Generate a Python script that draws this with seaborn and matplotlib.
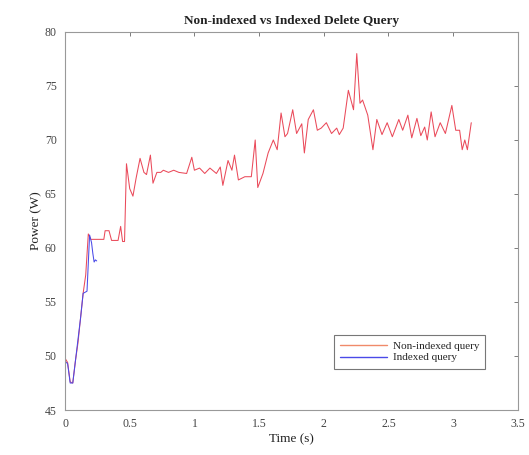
import matplotlib
matplotlib.use("Agg")
import matplotlib.pyplot as plt
import seaborn as sns
import pandas as pd

# Non-indexed query (red)
t_nonidx = [0.00, 0.02, 0.04, 0.06, 0.08, 0.10, 0.12, 0.14, 0.16, 0.18, 0.20, 0.25, 0.30,
            0.31, 0.34, 0.36, 0.41, 0.43, 0.445, 0.46, 0.475, 0.50, 0.525, 0.55, 0.58, 0.61,
            0.63, 0.66, 0.68, 0.71, 0.74, 0.76, 0.80, 0.84, 0.88, 0.94, 0.98, 1.00, 1.04,
            1.08, 1.12, 1.17, 1.20, 1.22, 1.26, 1.29, 1.31, 1.34, 1.39, 1.44, 1.47, 1.49,
            1.53, 1.57, 1.61, 1.64, 1.67, 1.70, 1.72, 1.76, 1.79, 1.83, 1.85, 1.88, 1.92,
            1.95, 1.98, 2.02, 2.06, 2.10, 2.12, 2.15, 2.19, 2.23, 2.255, 2.28, 2.30, 2.34,
            2.38, 2.41, 2.45, 2.49, 2.53, 2.58, 2.61, 2.65, 2.68, 2.72, 2.75, 2.78, 2.80,
            2.83, 2.86, 2.90, 2.94, 2.99, 3.02, 3.05, 3.07, 3.09, 3.11, 3.14]
p_nonidx = [49.8, 49.4, 47.6, 47.5, 49.5, 51.2, 53.5, 55.8, 57.5, 61.3, 60.8, 60.8, 60.8,
            61.6, 61.6, 60.7, 60.7, 62.0, 60.6, 60.6, 67.8, 65.5, 64.8, 66.5, 68.3, 67.0,
            66.8, 68.6, 66.0, 67.0, 67.0, 67.2, 67.0, 67.2, 67.0, 66.9, 68.4, 67.2, 67.4,
            66.9, 67.4, 66.9, 67.5, 65.8, 68.1, 67.2, 68.6, 66.3, 66.6, 66.6, 70.0, 65.6,
            66.9, 68.8, 70.0, 69.1, 72.5, 70.3, 70.6, 72.8, 70.6, 71.5, 68.8, 71.9, 72.8,
            70.9, 71.1, 71.6, 70.6, 71.1, 70.5, 71.1, 74.6, 72.8, 78.0, 73.4, 73.7, 72.3,
            69.1, 71.9, 70.5, 71.6, 70.3, 71.9, 70.9, 72.3, 70.2, 72.0, 70.4, 71.2, 70.0,
            72.6, 70.3, 71.6, 70.6, 73.2, 70.9, 70.9, 69.1, 70.0, 69.1, 71.6]

# Indexed query (blue)
t_idx = [0.00, 0.02, 0.04, 0.06, 0.09, 0.12, 0.14, 0.155, 0.17, 0.19, 0.205, 0.215, 0.225, 0.235, 0.245]
p_idx = [49.5, 49.3, 47.5, 47.5, 50.5, 53.5, 55.8, 55.9, 56.0, 61.2, 60.5, 59.5, 58.7, 58.9, 58.8]

series_names = ["Non-indexed query", "Indexed query"]
colors = ["#ea4a5a", "#4a4ae8"]

df = pd.concat([
    pd.DataFrame({"t": t_nonidx, "p": p_nonidx, "s": series_names[0]}),
    pd.DataFrame({"t": t_idx, "p": p_idx, "s": series_names[1]}),
], ignore_index=True)

sns.set_theme(style="white")
plt.rcParams['font.family'] = ['Liberation Serif', 'DejaVu Serif']

fig = plt.figure(figsize=(5.29, 4.55), dpi=100)
ax = fig.add_axes([0.1229, 0.0989, 0.856, 0.8308])

sns.lineplot(data=df, x="t", y="p", hue="s", palette=dict(zip(series_names, colors)),
             sort=False, estimator=None, linewidth=0.75, ax=ax)

ax.set_xlim(0, 3.5)
ax.set_ylim(45, 80)
ax.set_xticks([0, 0.5, 1, 1.5, 2, 2.5, 3, 3.5])
ax.set_xticklabels(["0", "0.5", "1", "1.5", "2", "2.5", "3", "3.5"])
ax.set_yticks([45, 50, 55, 60, 65, 70, 75, 80])
ax.tick_params(direction="in", top=True, right=True, length=3, width=0.6,
               colors="#666666", labelsize=8.5, labelcolor="#444444", pad=6)
for sp in ax.spines.values():
    sp.set_color("#999999")
    sp.set_linewidth(0.8)

ax.set_xlabel("Time (s)", fontsize=9.5, color="#222222", labelpad=2)
ax.set_ylabel("Power (W)", fontsize=9.5, color="#222222", labelpad=2)
ax.set_title("Non-indexed vs Indexed Delete Query", fontsize=9.5, fontweight="bold",
             color="#222222", pad=6)

leg = ax.legend(loc="lower right", bbox_to_anchor=(0.94, 0.095), fontsize=8,
                frameon=True, fancybox=False, borderpad=0.55, handlelength=4.2,
                labelspacing=0.15, handletextpad=0.5)
leg.get_frame().set_edgecolor("#555555")
leg.get_frame().set_linewidth(0.8)
for line, c in zip(leg.get_lines(), ["#f08a6a", colors[1]]):
    line.set_linewidth(1.0)
    line.set_color(c)

fig.savefig("out.png", dpi=100)
